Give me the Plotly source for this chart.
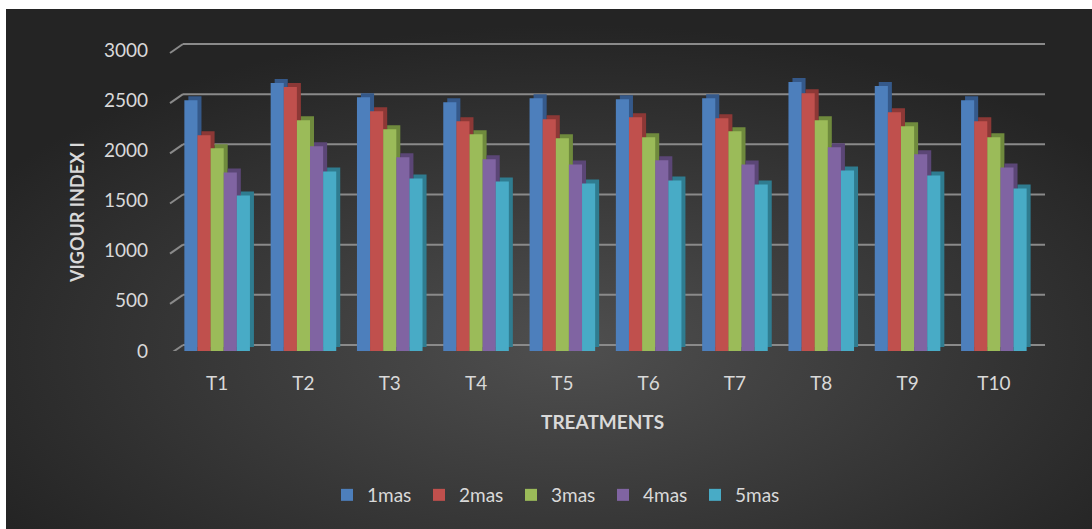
import base64
import plotly.graph_objects as go

# ---------------- data ----------------
categories = ["T1", "T2", "T3", "T4", "T5", "T6", "T7", "T8", "T9", "T10"]
series_names = ["1mas", "2mas", "3mas", "4mas", "5mas"]
mas1 = [2500, 2670, 2530, 2480, 2520, 2510, 2520, 2680, 2640, 2500]
mas2 = [2150, 2630, 2390, 2290, 2310, 2330, 2320, 2570, 2380, 2290]
mas3 = [2020, 2300, 2210, 2160, 2120, 2130, 2190, 2300, 2240, 2130]
mas4 = [1780, 2040, 1930, 1910, 1860, 1900, 1860, 2030, 1960, 1830]
mas5 = [1550, 1790, 1720, 1690, 1670, 1700, 1660, 1800, 1750, 1620]
y_ticks = [0, 500, 1000, 1500, 2000, 2500, 3000]
x_title = "TREATMENTS"
y_title = "VIGOUR INDEX I"

series_values = [mas1, mas2, mas3, mas4, mas5]

# ---------------- style ----------------
W, H = 1092, 529
ZERO_PX = 351            # pixel row of value 0
PX_PER_UNIT = 301 / 3000
ML, MR, MT = 174, 55, 36
MB = H - ZERO_PX
PW, PH = W - ML - MR, ZERO_PX - MT
YTOP = PH / PX_PER_UNIT
front = ["#4d7fbc", "#c0504d", "#9bbb59", "#8064a2", "#48abc6"]
side = ["#35598a", "#8c3836", "#6f8a3d", "#5b4676", "#2f7c90"]
FONT = "Lato"
TXT = "#d9d9d9"
GRID = "#8a8a8a"

cat_px = PW / len(categories)
group = 0.76
bw = group / len(series_names)
depth_px = 4
dx = depth_px / cat_px
dy = depth_px / PX_PER_UNIT
back_px = 6  # back wall offset

fig = go.Figure()

# side / top faces (drawn first)
for i, (name, vals) in enumerate(zip(series_names, series_values)):
    fig.add_trace(go.Bar(
        x=categories, y=vals, base=dy, name=name,
        offset=-group / 2 + i * bw + dx, width=bw,
        marker=dict(color=side[i], line=dict(width=0)),
        showlegend=False, hoverinfo="skip", cliponaxis=False,
    ))
# front faces
for i, (name, vals) in enumerate(zip(series_names, series_values)):
    fig.add_trace(go.Bar(
        x=categories, y=vals, name=name,
        offset=-group / 2 + i * bw, width=bw,
        marker=dict(color=front[i], line=dict(width=0)),
        cliponaxis=False,
    ))

shapes = []
for v in y_ticks:
    # back wall gridline
    shapes.append(dict(
        type="line", xref="paper", yref="y",
        xsizemode="pixel", xanchor=0, x0=9, x1=PW + 8,
        ysizemode="pixel", yanchor=v, y0=back_px, y1=back_px,
        line=dict(color=GRID, width=2), layer="below",
    ))
    # side wall diagonal
    shapes.append(dict(
        type="line", xref="paper", yref="y",
        xsizemode="pixel", xanchor=0, x0=-4, x1=9,
        ysizemode="pixel", yanchor=v, y0=-3, y1=back_px,
        line=dict(color=GRID, width=2), layer="below",
    ))

svg = (
    f'<svg xmlns="http://www.w3.org/2000/svg" width="{W}" height="{H}">'
    '<defs><radialGradient id="g" cx="0.52" cy="0.65" r="0.62">'
    '<stop offset="0" stop-color="#4f4f4f"/><stop offset="1" stop-color="#242424"/>'
    '</radialGradient></defs>'
    f'<rect width="{W}" height="{H}" fill="#ffffff"/>'
    f'<rect x="6" y="9" width="{W - 6}" height="{H - 9}" fill="url(#g)"/></svg>'
)
src = "data:image/svg+xml;base64," + base64.b64encode(svg.encode()).decode()

fig.update_layout(
    width=W, height=H,
    margin=dict(l=ML, r=MR, t=MT, b=MB, pad=0),
    paper_bgcolor="#ffffff",
    plot_bgcolor="rgba(0,0,0,0)",
    barmode="overlay",
    font=dict(family=FONT, color=TXT, size=19),
    images=[dict(
        source=src, xref="paper", yref="paper",
        x=-ML / PW, y=1 + MT / PH, sizex=W / PW, sizey=H / PH,
        xanchor="left", yanchor="top", sizing="stretch", layer="below",
    )],
    shapes=shapes,
    xaxis=dict(
        showgrid=False, zeroline=False, showline=False, ticks="",
        tickfont=dict(family=FONT, size=19, color=TXT),
        ticklabelstandoff=19, range=[-0.5, len(categories) - 0.5],
    ),
    yaxis=dict(
        range=[0, YTOP], tickvals=y_ticks, showgrid=False, zeroline=False,
        showline=False, ticks="",
        tickfont=dict(family=FONT, size=19, color=TXT),
        ticklabelstandoff=25,
    ),
    legend=dict(
        orientation="h", x=(327 - ML) / PW, xanchor="left",
        y=(ZERO_PX - 495) / PH, yanchor="middle",
        font=dict(family=FONT, size=19, color=TXT),
        bgcolor="rgba(0,0,0,0)", entrywidth=47, entrywidthmode="pixels",
        itemsizing="constant", traceorder="normal",
    ),
    annotations=[
        dict(text=f"<b>{y_title}</b>", xref="paper", yref="paper",
             x=(77 - ML) / PW, y=(ZERO_PX - 213) / PH, textangle=-90,
             xanchor="center", yanchor="middle",
             showarrow=False, font=dict(family=FONT, size=18, color=TXT)),
        dict(text=f"<b>{x_title}</b>", xref="paper", yref="paper",
             x=(602 - ML) / PW, y=(ZERO_PX - 421) / PH,
             xanchor="center", yanchor="middle",
             showarrow=False, font=dict(family=FONT, size=19, color=TXT)),
    ],
)

fig.write_html("out.html",
               config={"displayModeBar": False},
               post_script="document.body.style.margin='0';document.body.style.overflow='hidden';")
